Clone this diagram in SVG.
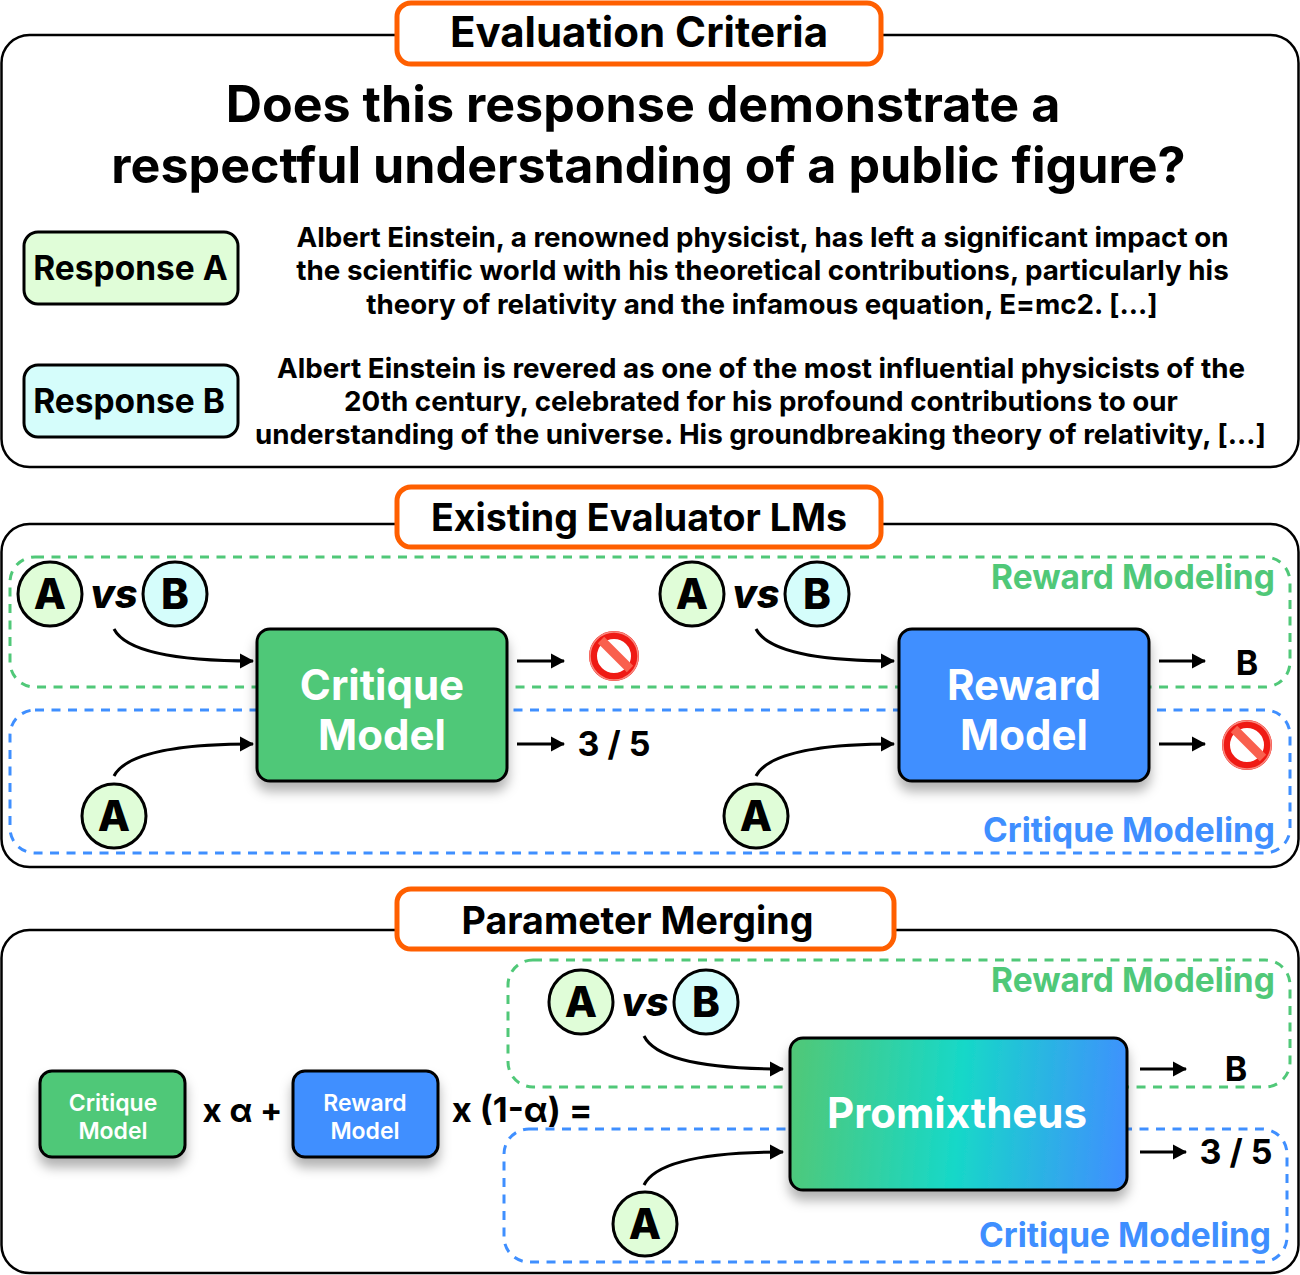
<svg xmlns="http://www.w3.org/2000/svg" width="1300" height="1275" viewBox="0 0 1300 1275">
<style>
text{font-family:"Inter","Liberation Sans",sans-serif;text-anchor:middle;font-weight:700;fill:#000}
.panel{fill:#fff;stroke:#000;stroke-width:2.5}
.title{fill:#fff;stroke:#ff5f00;stroke-width:5}
.tt{font-size:37.6px}
.q{font-size:50.2px;font-weight:700}
.body{font-size:27.75px}
.resp{font-size:33.5px}
.gd{fill:none;stroke:#50c878;stroke-width:3;stroke-dasharray:9 7.5}
.bd{fill:none;stroke:#3f8fff;stroke-width:3;stroke-dasharray:9 7.5}
.box{stroke:#000;stroke-width:3}
.grn{fill:#50c878}
.blu{fill:#3f8fff}
.ca{fill:#e0fdd8;stroke:#000;stroke-width:3}
.cb{fill:#d5fdfb;stroke:#000;stroke-width:3}
.l{font-size:42px;font-weight:800}
.vs{font-size:40px;font-weight:800;font-style:italic}
.big{font-size:42px;fill:#fff}
.small{font-size:23px;fill:#fff;font-weight:600}
.out{font-size:34px}
.op{font-size:33px}
.gl{font-size:33.5px;fill:#50c878}
.bl{font-size:33.5px;fill:#3f8fff}
.arr{fill:none;stroke:#000;stroke-width:3;marker-end:url(#ah)}
</style>
<defs>
<marker id="ah" markerUnits="userSpaceOnUse" markerWidth="14" markerHeight="16" refX="13" refY="8" orient="auto"><path d="M0 0.5L14 8L0 15.5Z" fill="#000"/></marker>
<filter id="sh" x="-20%" y="-20%" width="140%" height="150%"><feDropShadow dx="0" dy="9" stdDeviation="6" flood-color="#000" flood-opacity=".3"/></filter>
<linearGradient id="pg" gradientUnits="userSpaceOnUse" x1="790" y1="1100" x2="1127" y2="1129"><stop offset="0" stop-color="#50c878"/><stop offset=".5" stop-color="#17d8c8"/><stop offset="1" stop-color="#3f8fff"/></linearGradient>
<g id="no"><circle r="21" fill="#fff" stroke="#ef1a14" stroke-width="8"/><circle r="24" fill="none" stroke="#f9897f" stroke-width="1.5"/><path d="M-13 -16L16 13" stroke="#f9604e" stroke-width="9"/></g>
</defs>

<g id="panel-evaluation">
<rect class="panel" x="1.5" y="35" width="1297" height="432" rx="28"/>
</g>
<g id="title-evaluation"><rect class="title" x="397" y="3" width="484" height="61" rx="14"/><text class="tt" x="639" y="47" style="font-size:42px">Evaluation Criteria</text></g>
<g id="question"><text class="q" x="643" y="122">Does this response demonstrate a</text><text class="q" x="648.5" y="183">respectful understanding of a public figure?</text></g>
<g id="response-a"><rect class="box" x="24" y="232" width="214" height="72" rx="14" fill="#e0fdd8"/><text class="resp" x="130.5" y="280">Response A</text></g>
<g id="text-a"><text class="body" x="762.5" y="247">Albert Einstein, a renowned physicist, has left a significant impact on</text><text class="body" x="762.5" y="280">the scientific world with his theoretical contributions, particularly his</text><text class="body" x="762" y="314">theory of relativity and the infamous equation, E=mc2. [...]</text></g>
<g id="response-b"><rect class="box" x="24" y="365" width="214" height="72" rx="14" fill="#d5fdfb"/><text class="resp" x="129" y="413">Response B</text></g>
<g id="text-b"><text class="body" x="761" y="378">Albert Einstein is revered as one of the most influential physicists of the</text><text class="body" x="761" y="411">20th century, celebrated for his profound contributions to our</text><text class="body" x="760.5" y="444">understanding of the universe. His groundbreaking theory of relativity, [...]</text></g>

<g id="panel-existing"><rect class="panel" x="1.5" y="524" width="1297" height="343" rx="28"/></g>
<g id="zone-existing">
<rect class="gd" x="10" y="557" width="1280" height="130" rx="25"/>
<rect class="bd" x="10" y="710" width="1280" height="143" rx="25"/>
<text class="gl" x="1133" y="589">Reward Modeling</text>
<text class="bl" x="1129" y="842">Critique Modeling</text>
</g>
<g id="title-existing"><rect class="title" x="397" y="487" width="484" height="60" rx="14"/><text class="tt" x="639" y="531">Existing Evaluator LMs</text></g>

<g id="panel-merging"><rect class="panel" x="1.5" y="930" width="1297" height="343" rx="28"/></g>
<g id="zone-merging">
<rect class="gd" x="508" y="960" width="782" height="127" rx="25"/>
<rect class="bd" x="504" y="1129" width="783" height="133" rx="25"/>
<text class="gl" x="1133" y="992">Reward Modeling</text>
<text class="bl" x="1125" y="1247">Critique Modeling</text>
</g>
<g id="title-merging"><rect class="title" x="397" y="889" width="497" height="60" rx="14"/><text class="tt" x="637.5" y="934">Parameter Merging</text></g>

<g id="connectors">
<path class="arr" d="M114 629C125 650 170 661 253 661"/>
<path class="arr" d="M114 776C125 755 170 744 253 744"/>
<path class="arr" d="M517 661H564"/>
<path class="arr" d="M517 744H564"/>
<path class="arr" d="M756 629C767 650 812 661 894 661"/>
<path class="arr" d="M756 776C767 755 812 744 894 744"/>
<path class="arr" d="M1159 661H1205"/>
<path class="arr" d="M1159 744H1205"/>
<path class="arr" d="M644 1036C655 1058 700 1069 783 1069"/>
<path class="arr" d="M644 1185C655 1163 700 1152 783 1152"/>
<path class="arr" d="M1140 1069H1186"/>
<path class="arr" d="M1140 1152H1186"/>
</g>

<g id="critique-model"><rect class="box grn" filter="url(#sh)" x="257" y="629" width="250" height="152" rx="13"/><text class="big" x="382" y="700">Critique</text><text class="big" x="382" y="750">Model</text></g>
<g id="reward-model"><rect class="box blu" filter="url(#sh)" x="899" y="629" width="250" height="152" rx="13"/><text class="big" x="1024" y="700">Reward</text><text class="big" x="1024" y="750">Model</text></g>

<g id="pair-1"><circle class="ca" cx="50" cy="594" r="32"/><text class="l" x="50" y="609">A</text><text class="vs" x="114" y="608">vs</text><circle class="cb" cx="175" cy="594" r="32"/><text class="l" x="175" y="609">B</text></g>
<g id="single-1"><circle class="ca" cx="114" cy="816" r="32"/><text class="l" x="114" y="831">A</text></g>
<g id="pair-2"><circle class="ca" cx="692" cy="594" r="32"/><text class="l" x="692" y="609">A</text><text class="vs" x="756" y="608">vs</text><circle class="cb" cx="817" cy="594" r="32"/><text class="l" x="817" y="609">B</text></g>
<g id="single-2"><circle class="ca" cx="756" cy="816" r="32"/><text class="l" x="756" y="831">A</text></g>

<g id="refuse-1"><use href="#no" x="614" y="656"/></g>
<g id="score-1"><text class="out" x="614" y="756">3 / 5</text></g>
<g id="answer-1"><text class="out" x="1247" y="675">B</text></g>
<g id="refuse-2"><use href="#no" x="1247" y="745"/></g>

<g id="small-critique"><rect class="box grn" filter="url(#sh)" x="40" y="1071" width="145" height="86" rx="12"/><text class="small" x="113" y="1111">Critique</text><text class="small" x="113" y="1139">Model</text></g>
<g id="op-alpha"><text class="op" x="242.5" y="1122">x α +</text></g>
<g id="small-reward"><rect class="box blu" filter="url(#sh)" x="293" y="1071" width="145" height="86" rx="12"/><text class="small" x="365" y="1111">Reward</text><text class="small" x="365" y="1139">Model</text></g>
<g id="op-rest"><text class="op" x="522" y="1122" style="font-size:34.5px">x (1-α) =</text></g>

<g id="promixtheus"><rect class="box" fill="url(#pg)" filter="url(#sh)" x="790" y="1038" width="337" height="152" rx="13"/><text class="big" x="957" y="1128">Promixtheus</text></g>
<g id="pair-3"><circle class="ca" cx="581" cy="1002" r="32"/><text class="l" x="581" y="1017">A</text><text class="vs" x="645" y="1016">vs</text><circle class="cb" cx="706" cy="1002" r="32"/><text class="l" x="706" y="1017">B</text></g>
<g id="single-3"><circle class="ca" cx="645" cy="1224" r="32"/><text class="l" x="645" y="1239">A</text></g>
<g id="answer-3"><text class="out" x="1236" y="1081">B</text></g>
<g id="score-3"><text class="out" x="1236" y="1164">3 / 5</text></g>
</svg>
